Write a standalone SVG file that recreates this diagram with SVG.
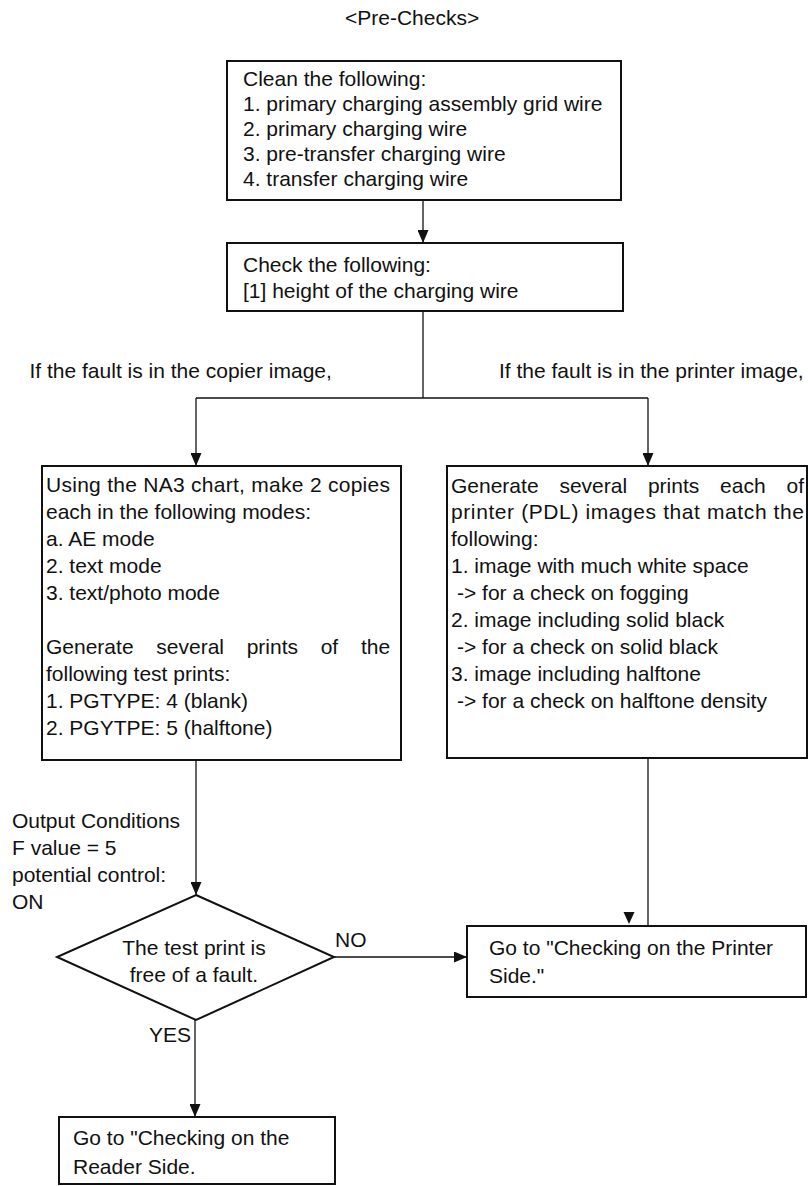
<svg xmlns="http://www.w3.org/2000/svg" width="808" height="1186" viewBox="0 0 808 1186">
<defs>
<style>
text{font-family:"Liberation Sans",Arial,sans-serif;font-size:21px;fill:#111;}
.box{fill:#fff;stroke:#111;stroke-width:2;}
.ln{fill:none;stroke:#111;stroke-width:1.3;}
.ah{fill:#111;stroke:none;}
</style>
<marker id="arr" markerUnits="userSpaceOnUse" markerWidth="13" markerHeight="11" refX="13" refY="5.5" orient="auto">
<path d="M0,0 L13,5.5 L0,11 z" fill="#111"/>
</marker>
</defs>
<rect width="808" height="1186" fill="#fff"/>

<text x="345" y="25">&lt;Pre-Checks&gt;</text>

<g id="connectors">
<line class="ln" x1="423" y1="200" x2="423" y2="243" marker-end="url(#arr)"/>
<polyline class="ln" points="423,311 423,398"/>
<polyline class="ln" points="196,398 648,398"/>
<line class="ln" x1="196" y1="398" x2="196" y2="466" marker-end="url(#arr)"/>
<line class="ln" x1="648" y1="398" x2="648" y2="466" marker-end="url(#arr)"/>
<line class="ln" x1="196" y1="760" x2="196" y2="895" marker-end="url(#arr)"/>
<line class="ln" x1="648" y1="758" x2="648" y2="926"/>
<polygon class="ah" points="623.5,912 634.5,912 629,924"/>
<line class="ln" x1="333" y1="957" x2="467" y2="957" marker-end="url(#arr)"/>
<line class="ln" x1="195" y1="1020" x2="195" y2="1117" marker-end="url(#arr)"/>
<text x="29.5" y="378">If the fault is in the copier image,</text>
<text x="499" y="378">If the fault is in the printer image,</text>
<text x="12" y="828">Output Conditions</text>
<text x="12" y="855">F value = 5</text>
<text x="12" y="882">potential control:</text>
<text x="12" y="909">ON</text>
<text x="335" y="947">NO</text>
<text x="191" y="1042" text-anchor="end">YES</text>
</g>

<g id="clean">
<rect class="box" x="227" y="61" width="394" height="139"/>
<text x="243" y="86">Clean the following:</text>
<text x="243" y="111">1. primary charging assembly grid wire</text>
<text x="243" y="136">2. primary charging wire</text>
<text x="243" y="161">3. pre-transfer charging wire</text>
<text x="243" y="186">4. transfer charging wire</text>
</g>

<g id="check">
<rect class="box" x="227" y="243" width="396" height="68"/>
<text x="243" y="272">Check the following:</text>
<text x="243" y="298">[1] height of the charging wire</text>
</g>

<g id="copier">
<rect class="box" x="42" y="466" width="359" height="294"/>
<text x="46" y="492" textLength="344" lengthAdjust="spacing">Using the NA3 chart, make 2 copies</text>
<text x="46" y="519">each in the following modes:</text>
<text x="46" y="546">a. AE mode</text>
<text x="46" y="573">2. text mode</text>
<text x="46" y="600">3. text/photo mode</text>
<text y="654"><tspan x="46">Generate</tspan><tspan x="156.3">several</tspan><tspan x="246.7">prints</tspan><tspan x="320.7">of</tspan><tspan x="360.9">the</tspan></text>
<text x="46" y="681">following test prints:</text>
<text x="46" y="708">1. PGTYPE: 4 (blank)</text>
<text x="46" y="735">2. PGYTPE: 5 (halftone)</text>
</g>

<g id="printer">
<rect class="box" x="447" y="466" width="360" height="292"/>
<text y="493"><tspan x="451">Generate</tspan><tspan x="559.4">several</tspan><tspan x="647.9">prints</tspan><tspan x="720.1">each</tspan><tspan x="786.5">of</tspan></text>
<text x="451" y="519" textLength="353" lengthAdjust="spacing">printer (PDL) images that match the</text>
<text x="451" y="546">following:</text>
<text x="451" y="573">1. image with much white space</text>
<text x="457" y="600">-&gt; for a check on fogging</text>
<text x="451" y="627">2. image including solid black</text>
<text x="457" y="654">-&gt; for a check on solid black</text>
<text x="451" y="681">3. image including halftone</text>
<text x="457" y="708">-&gt; for a check on halftone density</text>
</g>

<g id="decision">
<polygon class="box" points="196,895 334,957 196,1020 57,957"/>
<text x="194" y="955" text-anchor="middle">The test print is</text>
<text x="194" y="982" text-anchor="middle">free of a fault.</text>
</g>

<g id="goto-printer">
<rect class="box" x="467" y="926" width="339" height="71"/>
<text x="489" y="955">Go to "Checking on the Printer</text>
<text x="489" y="983">Side."</text>
</g>

<g id="goto-reader">
<rect class="box" x="59" y="1117" width="276" height="67"/>
<text x="73" y="1145">Go to "Checking on the</text>
<text x="73" y="1174">Reader Side.</text>
</g>
</svg>
